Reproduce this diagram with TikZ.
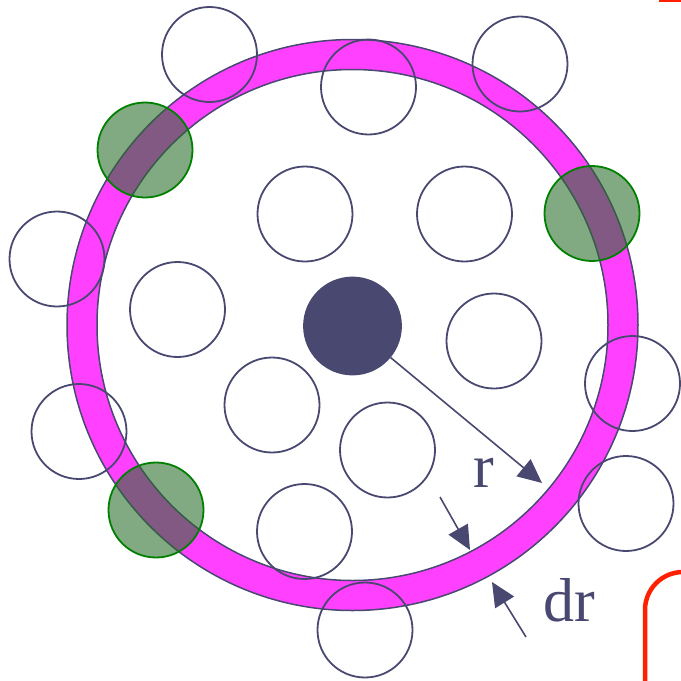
\documentclass[tikz,border=0pt]{standalone}
\usepackage{fontspec}
\setmainfont{Liberation Serif}
\usetikzlibrary{arrows.meta}
\definecolor{ink}{RGB}{72,72,112}
\definecolor{ringpink}{RGB}{255,64,255}
\definecolor{leaf}{RGB}{0,128,0}
\definecolor{leaffill}{RGB}{40,108,40}
\definecolor{framered}{RGB}{255,32,0}
\begin{document}
\begin{tikzpicture}[x=1pt,y=-1pt,
  ball/.style={circle,draw=ink,line width=1.8pt,minimum size=95pt,inner sep=0pt},
  hit/.style={ball,draw=leaf,fill=leaffill,fill opacity=0.58},
  ptr/.style={ink,line width=1.6pt,-{Triangle[length=24pt,width=22pt]}},
  lbl/.style={text=ink,font=\fontsize{62}{70}\selectfont,inner sep=0pt,anchor=base}]
\useasboundingbox (0,0) rectangle (681,681);
\clip (0,0) rectangle (681,681);
% shell of width dr
\fill[ringpink,even odd rule] (352.5,325) circle[radius=285.5pt] circle[radius=255.5pt];
\draw[ink,line width=1.5pt] (352.5,325) circle[radius=285.5pt] circle[radius=255.5pt];
% particles
\node[ball] (b1) at (209.5,54.5) {};
\node[ball] (b2) at (368.5,87) {};
\node[ball] (b3) at (520,64) {};
\node[ball] (b4) at (57,259) {};
\node[ball] (b5) at (305,214) {};
\node[ball] (b6) at (464.5,214) {};
\node[ball] (b7) at (177.5,309.5) {};
\node[ball] (b8) at (494,341) {};
\node[ball] (b9) at (632.5,383.5) {};
\node[ball] (b10) at (79,431.5) {};
\node[ball] (b11) at (272,405) {};
\node[ball] (b12) at (387.5,450) {};
\node[ball] (b13) at (626,503.5) {};
\node[ball] (b14) at (304.5,531.5) {};
\node[ball] (b15) at (365,630) {};
% particles in the shell
\node[hit] (g1) at (145,150) {};
\node[hit] (g2) at (592,213.5) {};
\node[hit] (g3) at (156,510) {};
% reference particle
\node[ball,fill=ink,minimum size=97pt] (hub) at (352.5,326) {};
\coordinate (rtip) at (542,483);
\coordinate (dra) at (440,497);
\coordinate (drb) at (470,550);
\coordinate (drc) at (526,637);
\coordinate (drd) at (492,582);
\draw[ptr] (hub) -- (rtip);
\draw[ptr] (dra) -- (drb);
\draw[ptr] (drc) -- (drd);
\node[lbl] (rlab) at (484,487) {r};
\node[lbl] (drlab) at (569.5,621) {dr};
% red frame pieces
\draw[framered,line width=4.5pt] (659,0) -- (681,0);
\draw[framered,line width=4.5pt] (645,681) -- (645,610) arc[start angle=180,end angle=90,radius=38pt];
\end{tikzpicture}
\end{document}
